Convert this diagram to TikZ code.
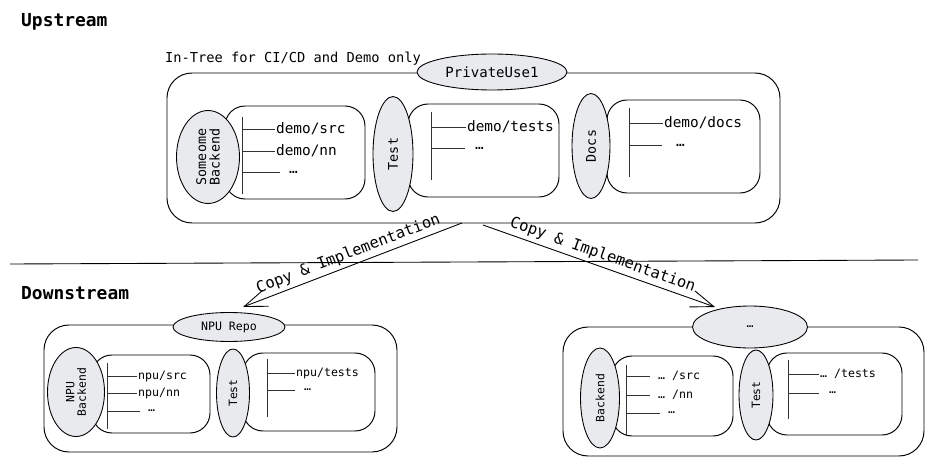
\documentclass[tikz,border=0pt]{standalone}
\usepackage{fontspec}
\setmonofont{DejaVu Sans Mono}
\usetikzlibrary{arrows.meta, fit, shapes.geometric}
\tikzset{>=stealth}
\definecolor{tagfill}{RGB}{232,234,237}
\newcommand{\fsz}[1]{\ttfamily\fontsize{#1}{#1}\selectfont}
\tikzset{
    repobox/.style  = {draw, rounded corners=5mm, inner sep=0pt, line width=0.55pt},
    partbox/.style  = {draw, rounded corners=4mm, inner sep=0pt, line width=0.55pt},
    tag/.style      = {draw, ellipse, fill=tagfill, inner sep=0pt, line width=0.5pt, align=center},
    vtag/.style     = {tag, rotate=90},
    leaf/.style     = {anchor=west, inner sep=1pt},
    branch/.style   = {line width=0.45pt, black!80},
    title/.style    = {anchor=west, font=\fsz{10.2}\bfseries},
    copyarrow/.style = {-{Straight Barb[length=4.6mm, width=3.4mm]}, line width=0.5pt}
}

\begin{document}
\begin{tikzpicture}[x=0.02cm, y=-0.02cm]
    \useasboundingbox (0,0) rectangle (934,466);

    % upstream
    \node[title] (upT) at (15,22) {Upstream};
    \node[anchor=west, font=\fsz{7.8}] (intree) at (159,59) {In-Tree for CI/CD and Demo only};
    \node[repobox, fit={(167,73) (780,223)}] (up) {};

    \node[partbox, fit={(225,106) (365,199)}] (upBox1) {};
    \draw[branch] (242,117) -- (242,194);
    \draw[branch] (242,129) -- (275,129) (242,151) -- (275,151) (242,172) -- (280,172);
    \node[leaf, font=\fsz{8.2}] (upSrc) at (274,129) {demo/src};
    \node[leaf, font=\fsz{8.2}] (upNn) at (274,151) {demo/nn};
    \node[leaf, font=\fsz{8.2}] (upEtc1) at (287,172) {…};
    \node[vtag, minimum width=1.86cm, minimum height=1.26cm, font=\fsz{7.6}] (upBe) at (208,157) {Someome\\Backend};

    \node[partbox, fit={(408,104) (559,197)}] (upBox2) {};
    \draw[branch] (431,112) -- (431,180);
    \draw[branch] (431,127) -- (466,127) (431,148) -- (465,148);
    \node[leaf, font=\fsz{8.2}] (upTests) at (465,127) {demo/tests};
    \node[leaf, font=\fsz{8.2}] (upEtc2) at (473,148) {…};
    \node[vtag, minimum width=2.3cm, minimum height=0.8cm, font=\fsz{7.6}] (upTest) at (393,154) {Test};

    \node[partbox, fit={(607,100) (760,193)}] (upBox3) {};
    \draw[branch] (629,108) -- (629,177);
    \draw[branch] (629,123) -- (663,123) (629,145) -- (662,145);
    \node[leaf, font=\fsz{8.2}] (upDocs) at (662,123) {demo/docs};
    \node[leaf, font=\fsz{8.2}] (upEtc3) at (674,145) {…};
    \node[vtag, minimum width=2.1cm, minimum height=0.76cm, font=\fsz{7.6}] (upDoc) at (591,146) {Docs};

    \node[tag, minimum width=3cm, minimum height=0.72cm, font=\fsz{8}] (pu1) at (492,72) {PrivateUse1};

    % separator
    \draw[line width=0.5pt] (10,264) -- (918,260);

    % downstream
    \node[title] (downT) at (15,293) {Downstream};

    \node[repobox, fit={(44,325) (397,452)}] (npu) {};
    \node[partbox, fit={(92,355) (210,433)}] (npuBox1) {};
    \draw[branch] (107,363) -- (107,429);
    \draw[branch] (107,376) -- (137,376) (107,393) -- (137,393) (107,411) -- (140,411);
    \node[leaf, font=\fsz{6.6}] (npuSrc) at (136,376) {npu/src};
    \node[leaf, font=\fsz{6.6}] (npuNn) at (136,393) {npu/nn};
    \node[leaf, font=\fsz{6.6}] (npuEtc1) at (146,411) {…};
    \node[vtag, minimum width=1.78cm, minimum height=1.14cm, font=\fsz{6.5}] (npuBe) at (76,392) {NPU\\Backend};

    \node[partbox, fit={(243,353) (375,431)}] (npuBox2) {};
    \draw[branch] (267,359) -- (267,417);
    \draw[branch] (267,373) -- (295,373) (267,390) -- (295,390);
    \node[leaf, font=\fsz{6.6}] (npuTests) at (294,373) {npu/tests};
    \node[leaf, font=\fsz{6.6}] (npuEtc2) at (302,390) {…};
    \node[vtag, minimum width=1.76cm, minimum height=0.66cm, font=\fsz{6.5}] (npuTest) at (233,393) {Test};

    \node[tag, minimum width=2.24cm, minimum height=0.58cm, font=\fsz{6.6}] (npuRepo) at (229,327) {NPU Repo};

    \node[repobox, fit={(563,327) (924,456)}] (oth) {};
    \node[partbox, fit={(612,356) (733,436)}] (othBox1) {};
    \draw[branch] (626,365) -- (626,435);
    \draw[branch] (626,376) -- (650,376) (626,395) -- (650,395) (626,413) -- (660,413);
    \node[leaf, font=\fsz{6.6}] (othSrc) at (656,376) {… /src};
    \node[leaf, font=\fsz{6.6}] (othNn) at (656,395) {… /nn};
    \node[leaf, font=\fsz{6.6}] (othEtc1) at (666,413) {…};
    \node[vtag, minimum width=2cm, minimum height=0.78cm, font=\fsz{6.5}] (othBe) at (600,398) {Backend};

    \node[partbox, fit={(767,353) (902,435)}] (othBox2) {};
    \draw[branch] (788,360) -- (788,419);
    \draw[branch] (788,374) -- (819,374) (788,393) -- (819,393);
    \node[leaf, font=\fsz{6.6}] (othTests) at (818,374) {… /tests};
    \node[leaf, font=\fsz{6.6}] (othEtc2) at (827,393) {…};
    \node[vtag, minimum width=1.8cm, minimum height=0.68cm, font=\fsz{6.5}] (othTest) at (756,395) {Test};

    \node[tag, minimum width=2.3cm, minimum height=0.84cm, font=\fsz{6.6}] (othRepo) at (750,327) {…};

    % copy arrows
    \coordinate (fromL) at (462,223);
    \coordinate (fromR) at (483,225);
    \coordinate (toL) at (243,307);
    \coordinate (toR) at (715,307);
    \draw[copyarrow] (fromL) -- node[sloped, above, inner sep=2pt, font=\fsz{8.8}] (cpL) {Copy \& Implementation} (toL);
    \draw[copyarrow] (fromR) -- node[sloped, above, inner sep=2pt, font=\fsz{8.8}] (cpR) {Copy \& Implementation} (toR);
\end{tikzpicture}
\end{document}
